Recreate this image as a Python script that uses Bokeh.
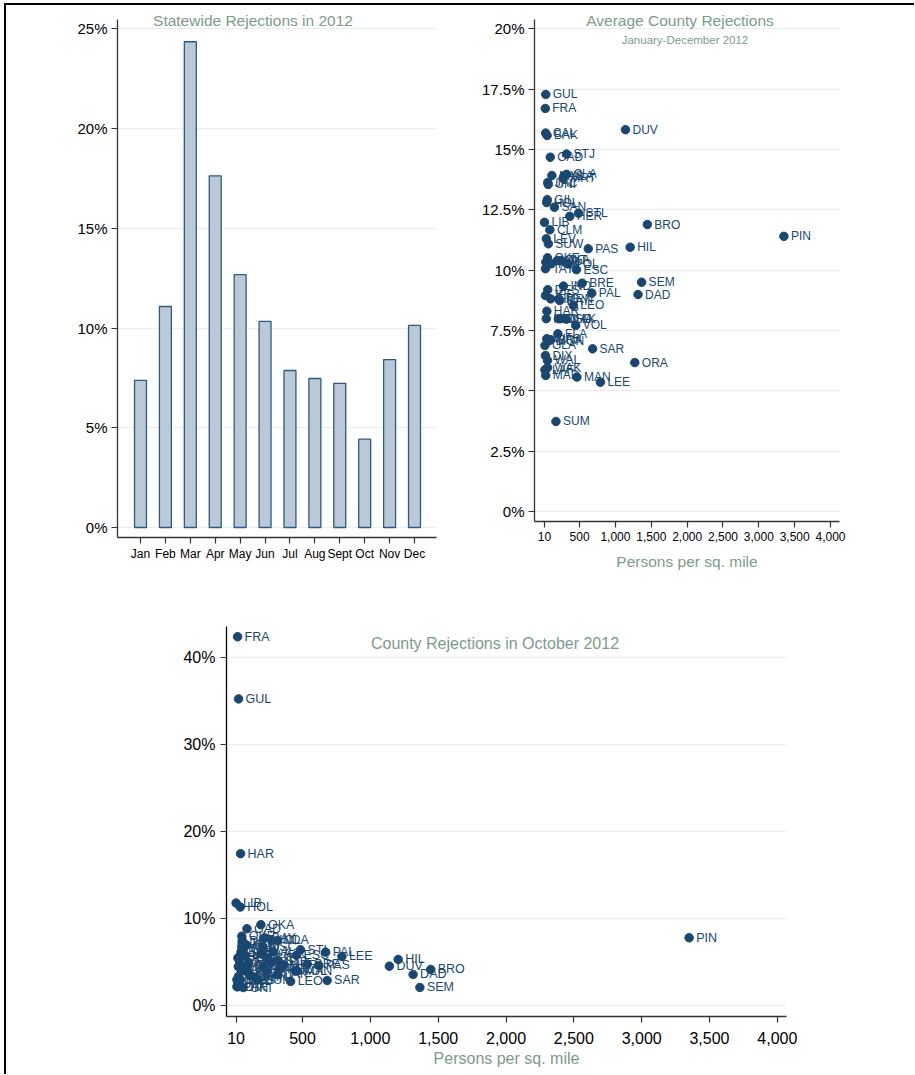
from bokeh.plotting import figure
from bokeh.models import (ColumnDataSource, FixedTicker, NumeralTickFormatter,
                          Range1d, Div, Spacer)
from bokeh.layouts import column
from bokeh.core.properties import value
from bokeh.embed import file_html
from bokeh.resources import INLINE

# ---- statewide monthly rejection rate, 2012 ----
months = ["Jan", "Feb", "Mar", "Apr", "May", "Jun",
          "Jul", "Aug", "Sept", "Oct", "Nov", "Dec"]
statewide_rate = [0.0738, 0.1108, 0.2435, 0.1763, 0.1268, 0.1033,
                  0.0787, 0.0747, 0.0723, 0.0443, 0.0842, 0.1013]

# ---- county figures ----
counties = ["ALA", "BAK", "BAY", "BRA", "BRE", "BRO", "CAL", "CHA", "CIT", "CLA",
            "CLM", "DAD", "DES", "DIX", "DUV", "ESC", "FLA", "FRA", "GAD", "GIL",
            "GLA", "GUL", "HAM", "HAR", "HEN", "HER", "HIG", "HIL", "HOL", "IND",
            "JAC", "JEF", "LAF", "LAK", "LEE", "LEO", "LEV", "LIB", "MAD", "MAN",
            "MRN", "MRT", "MON", "NAS", "OKA", "OKE", "ORA", "OSC", "PAL", "PAS",
            "PIN", "POL", "PUT", "SAN", "SAR", "SEM", "STJ", "STL", "SUM", "SUW",
            "TAY", "UNI", "VOL", "WAK", "WAL", "WAS"]
density = [282, 46, 222, 97, 535, 1445, 26, 235, 241, 316,
           85, 1315, 55, 23, 1140, 455, 197, 21, 90, 49,
           16, 28, 28, 43, 34, 363, 96, 1205, 41, 274,
           55, 24, 16, 314, 790, 412, 36, 10, 27, 462,
           209, 270, 74, 113, 193, 52, 1270, 204, 670, 620,
           3350, 333, 102, 149, 681, 1365, 318, 485, 170, 64,
           23, 62, 446, 51, 52, 42]
avg_rate = [0.1390, 0.1558, 0.0874, 0.0712, 0.0946, 0.1189, 0.1568, 0.0799, 0.1040, 0.1397,
            0.1167, 0.0899, 0.0919, 0.0646, 0.1582, 0.1002, 0.0736, 0.1670, 0.1468, 0.1292,
            0.0688, 0.1728, 0.1033, 0.0830, 0.0799, 0.1223, 0.0881, 0.1095, 0.1280, 0.0934,
            0.1363, 0.0895, 0.0587, 0.0797, 0.0536, 0.0854, 0.1130, 0.1198, 0.0564, 0.0557,
            0.0881, 0.1380, 0.0708, 0.1392, 0.1040, 0.1051, 0.0617, 0.0799, 0.0905, 0.1089,
            0.1140, 0.1026, 0.1026, 0.1261, 0.0674, 0.0950, 0.1481, 0.1236, 0.0373, 0.1109,
            0.1006, 0.1355, 0.0771, 0.0596, 0.0626, 0.0716]
oct_rate = [0.062, 0.062, 0.078, 0.038, 0.048, 0.0418, 0.045, 0.040, 0.055, 0.0752,
            0.070, 0.0360, 0.075, 0.022, 0.0456, 0.058, 0.060, 0.4242, 0.0886, 0.040,
            0.030, 0.3528, 0.034, 0.1749, 0.056, 0.047, 0.046, 0.0533, 0.1135, 0.0752,
            0.072, 0.025, 0.022, 0.036, 0.0567, 0.028, 0.050, 0.1181, 0.028, 0.040,
            0.045, 0.050, 0.058, 0.035, 0.0932, 0.080, None, 0.068, 0.0617, 0.0464,
            0.0782, 0.042, 0.050, 0.033, 0.0291, 0.0211, 0.052, 0.0644, 0.030, 0.065,
            0.055, 0.021, 0.040, 0.043, 0.068, 0.030]

density_ticks = [10, 500, 1000, 1500, 2000, 2500, 3000, 3500, 4000]

FONT = "Liberation Sans"
NAVY = "#1a476f"
TITLE_C = "#7d9b8c"
GRID_C = "#e6eeef"
AXIS_C = "#333333"


def place(left, top):
    return {"position": "absolute", "left": f"{left}px", "top": f"{top}px"}


def base_style(p, tick_px):
    p.outline_line_color = None
    p.background_fill_color = "white"
    p.border_fill_color = "white"
    p.xgrid.grid_line_color = None
    p.ygrid.grid_line_color = GRID_C
    p.ygrid.grid_line_width = 1.2
    for ax in p.axis:
        ax.axis_line_color = AXIS_C
        ax.axis_line_width = 1.3
        ax.major_tick_line_color = AXIS_C
        ax.major_tick_line_width = 1.2
        ax.minor_tick_line_color = None
        ax.major_tick_in = 0
        ax.major_tick_out = 6
        ax.major_label_text_font = FONT
        ax.major_label_text_color = "black"
        ax.axis_label_text_font = FONT
        ax.axis_label_text_font_style = "normal"
        ax.axis_label_text_color = TITLE_C
    p.yaxis.major_label_text_font_size = tick_px
    p.yaxis.major_label_standoff = 4


def heading(text, center_x, top, size):
    w = 320
    st = place(center_x - w // 2, top)
    st.update({"width": f"{w}px", "text-align": "center", "font-family": FONT,
               "font-size": size, "line-height": "1", "color": TITLE_C,
               "white-space": "nowrap", "margin": "0", "padding": "0"})
    return Div(text=text, width=w, styles=st)


# ---- panel 1: statewide bars ----
p1 = figure(width=464, height=585, x_range=Range1d(0.0766, 12.883),
            y_range=Range1d(-0.00501, 0.25466), title=None,
            output_backend="svg", toolbar_location=None,
            min_border_left=111, min_border_right=34,
            min_border_top=14, min_border_bottom=53,
            styles=place(6, 5))
month_src = ColumnDataSource(dict(m=list(range(1, 13)), rate=statewide_rate))
p1.vbar(x="m", top="rate", width=0.48, source=month_src,
        fill_color="#bac9d5", line_color="#2d5a84", line_width=1.3)
base_style(p1, "15px")
p1.xaxis.ticker = FixedTicker(ticks=list(range(1, 13)))
p1.xaxis.major_label_overrides = {i + 1: m for i, m in enumerate(months)}
p1.xaxis.major_label_text_font_size = "12px"
p1.xaxis.major_label_standoff = 3
p1.yaxis.ticker = FixedTicker(ticks=[0, 0.05, 0.10, 0.15, 0.20, 0.25])
p1.yaxis.formatter = NumeralTickFormatter(format="0%")

# ---- panel 2: average county rejection vs density ----
avg_src = ColumnDataSource(dict(code=counties, d=density, r=avg_rate))
p2 = figure(width=430, height=585, x_range=Range1d(-129.5, 4125.6),
            y_range=Range1d(-0.00414, 0.20385), title=None,
            output_backend="svg", toolbar_location=None,
            min_border_left=64, min_border_right=61,
            min_border_top=14, min_border_bottom=69,
            styles=place(470, 5))
p2.scatter(x="d", y="r", source=avg_src, size=8.5,
           fill_color=NAVY, line_color=NAVY)
p2.text(x="d", y="r", text="code", source=avg_src, x_offset=7,
        text_baseline="middle", text_font=value(FONT),
        text_font_size="12px", text_color=NAVY)
base_style(p2, "15px")
p2.xaxis.ticker = FixedTicker(ticks=density_ticks)
p2.xaxis.formatter = NumeralTickFormatter(format="0,0")
p2.xaxis.major_label_text_font_size = "12px"
p2.xaxis.major_label_standoff = 4
p2.xaxis.axis_label = "Persons per sq. mile"
p2.xaxis.axis_label_text_font_size = "15.5px"
p2.xaxis.axis_label_standoff = 9
p2.yaxis.ticker = FixedTicker(ticks=[0, 0.025, 0.05, 0.075, 0.10, 0.125,
                                     0.15, 0.175, 0.20])
p2.yaxis.formatter = NumeralTickFormatter(format="0.[0]%")

# ---- panel 3: October county rejection vs density ----
keep = [i for i, v in enumerate(oct_rate) if v is not None]
oct_src = ColumnDataSource(dict(code=[counties[i] for i in keep],
                                d=[density[i] for i in keep],
                                r=[oct_rate[i] for i in keep]))
p3 = figure(width=700, height=480, x_range=Range1d(-60.8, 4067.8),
            y_range=Range1d(-0.0123, 0.436), title=None,
            output_backend="svg", toolbar_location=None,
            min_border_left=120, min_border_right=20,
            min_border_top=36, min_border_bottom=54,
            styles=place(106, 590))
p3.scatter(x="d", y="r", source=oct_src, size=8.5,
           fill_color=NAVY, line_color=NAVY)
p3.text(x="d", y="r", text="code", source=oct_src, x_offset=7,
        text_baseline="middle", text_font=value(FONT),
        text_font_size="12.5px", text_color=NAVY)
base_style(p3, "16px")
p3.yaxis.axis_line_color = "black"
p3.xaxis.ticker = FixedTicker(ticks=density_ticks)
p3.xaxis.formatter = NumeralTickFormatter(format="0,0")
p3.xaxis.major_label_text_font_size = "16px"
p3.xaxis.major_label_standoff = 9
p3.xaxis.axis_label = "Persons per sq. mile"
p3.xaxis.axis_label_text_font_size = "16px"
p3.xaxis.axis_label_standoff = 3
p3.yaxis.ticker = FixedTicker(ticks=[0, 0.10, 0.20, 0.30, 0.40])
p3.yaxis.formatter = NumeralTickFormatter(format="0%")
p3.yaxis.major_label_standoff = 5

# ---- page frame (top and left rules) and panel headings ----
frame_st = place(4, 3)
frame_st.update({"border-top": "2px solid black", "border-left": "2px solid black"})
frame = column(Spacer(width=908, height=1069), styles=frame_st)

headings = [
    heading("Statewide Rejections in 2012", 253, 13, "15.5px"),
    heading("Average County Rejections", 680, 13, "15.5px"),
    heading("January-December 2012", 685, 35, "11.5px"),
    heading("County Rejections in October 2012", 495, 636, "16px"),
]

with open("out.html", "w") as f:
    f.write(file_html([frame, p1, p2, p3] + headings, INLINE,
                      title="Rejections 2012"))
